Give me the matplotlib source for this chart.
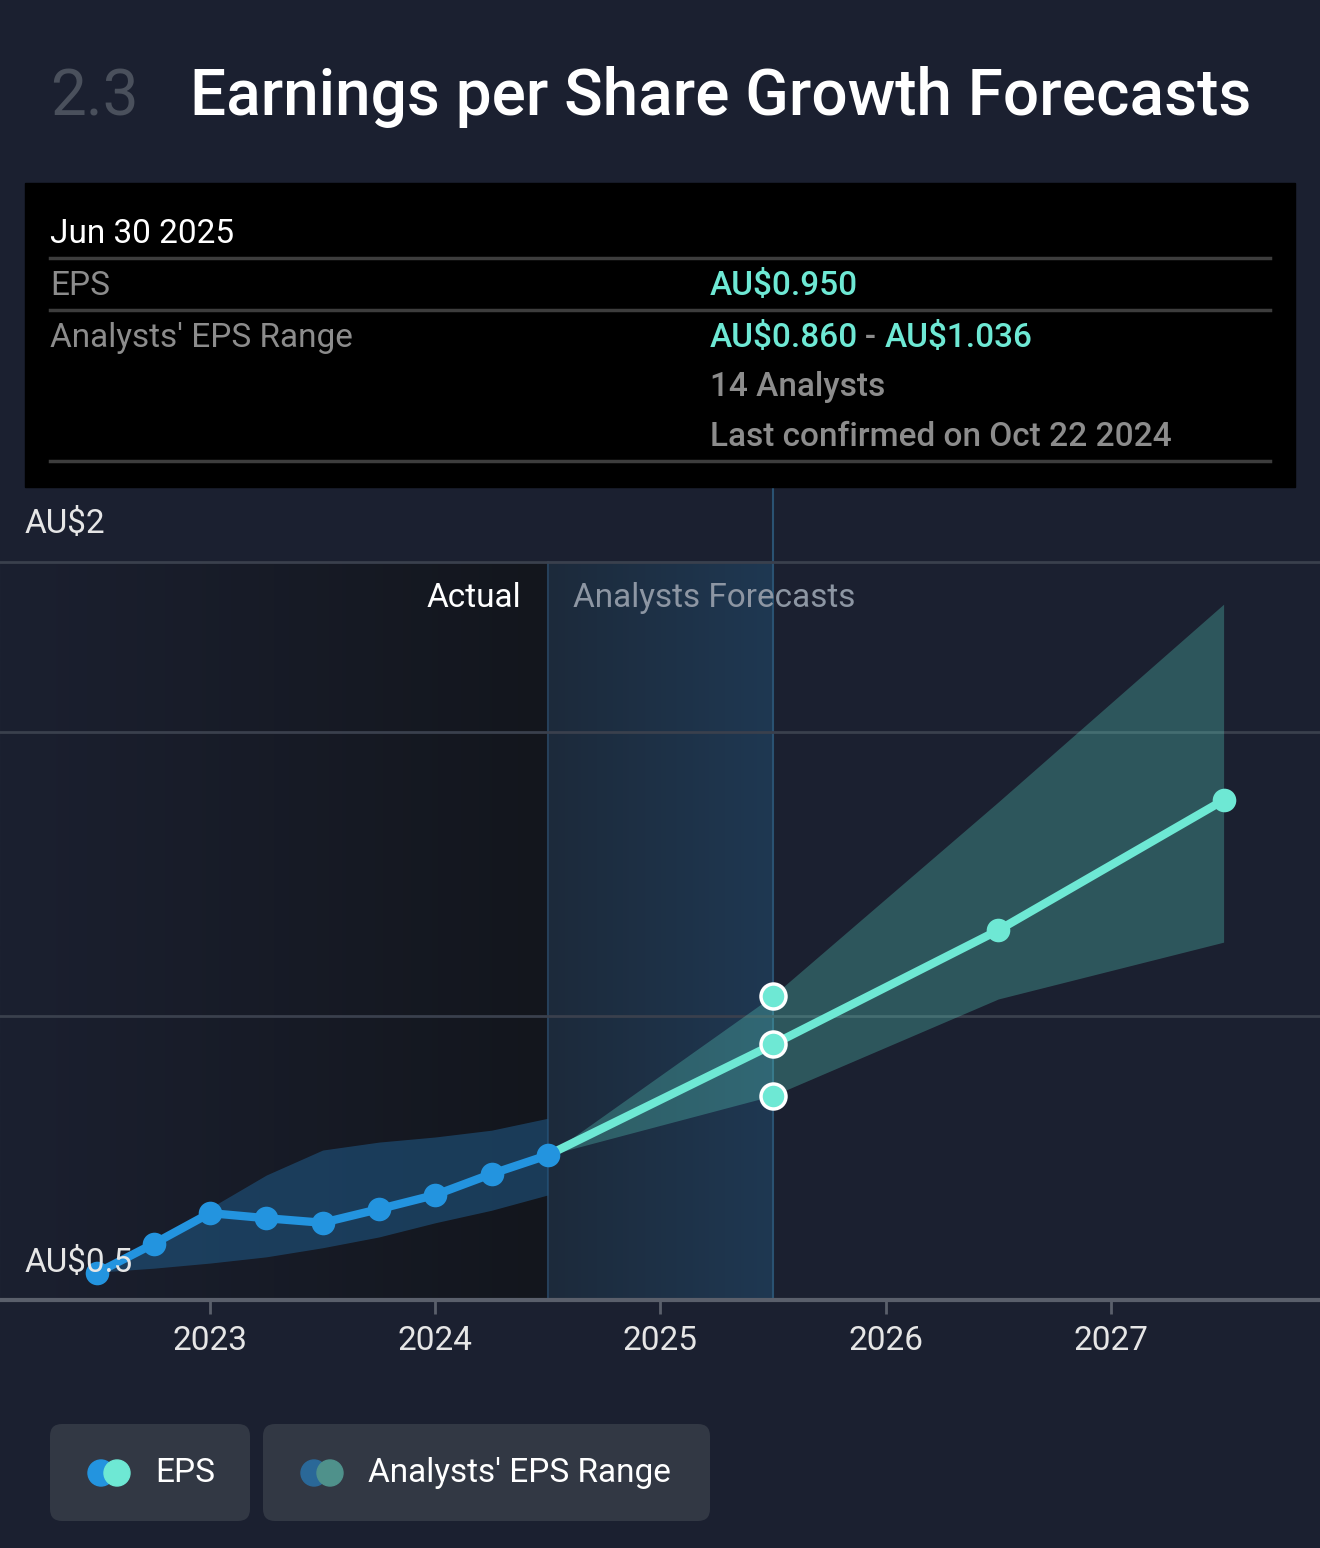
import numpy as np
import matplotlib.pyplot as plt
from matplotlib.patches import Rectangle, FancyBboxPatch, Circle
from matplotlib.colors import LinearSegmentedColormap

plt.rcParams['font.family'] = ['Roboto', 'DejaVu Sans']

# data
hist_x = [2022.5, 2022.75, 2023.0, 2023.25, 2023.5, 2023.75, 2024.0, 2024.25, 2024.5]
hist_eps = [0.548, 0.599, 0.653, 0.644, 0.636, 0.660, 0.685, 0.722, 0.755]
hist_hi = [0.549, 0.597, 0.662, 0.720, 0.764, 0.778, 0.787, 0.799, 0.820]
hist_lo = [0.549, 0.556, 0.565, 0.576, 0.592, 0.611, 0.636, 0.658, 0.685]

fc_x = [2024.5, 2025.5, 2026.5, 2027.5]
fc_eps = [0.755, 0.950, 1.151, 1.380]
fc_hi = [0.755, 1.036, 1.377, 1.725]
fc_lo = [0.755, 0.860, 1.030, 1.130]

years = [2023, 2024, 2025, 2026, 2027]
grid_vals = [1.0, 1.5, 1.8]

BG = '#1b2030'
BLUE = '#2394df'
TEAL = '#6ee8d4'
GREY = '#8c8c8c'
FS = 24

W, H = 1320, 1548
fig = plt.figure(figsize=(W / 100, H / 100), dpi=100, facecolor=BG)

# chart axes, pixel rows 487..1300
x0, x1 = 2022.0677, 2027.928
y0, y1 = 0.5, 0.5 + (1300 - 487) / 568
ax = fig.add_axes([0, (H - 1300) / H, 1, (1300 - 487) / H])
ax.set_facecolor('none')
ax.set_xlim(x0, x1)
ax.set_ylim(y0, y1)
for s in ax.spines.values():
    s.set_visible(False)

# actual region + highlighted year
grad = np.linspace(0, 1, 256).reshape(1, -1)
cm_act = LinearSegmentedColormap.from_list('act', [BG, '#13161d'])
ax.imshow(grad, cmap=cm_act, extent=[x0, 2024.5, 0.5, 1.8], aspect='auto', zorder=0)
cm_hl = LinearSegmentedColormap.from_list('hl', ['#1c2a3b', '#1f3852'])
ax.imshow(grad, cmap=cm_hl, extent=[2024.5, 2025.5, 0.5, 1.8], aspect='auto', zorder=0)
ax.axvline(2024.5, ymin=0, ymax=(1.8 - y0) / (y1 - y0), color='#26405a', lw=1.5, zorder=1)
ax.axvline(2025.5, color='#2a5272', lw=1.5, zorder=1)

for g in grid_vals:
    ax.axhline(g, color='#3a404d', lw=2, zorder=1)
ax.axhline(0.5, color='#5a5f6b', lw=3, zorder=1, clip_on=False)

# bands
ax.fill_between(hist_x, hist_lo, hist_hi, color='#1f5580', alpha=0.6, lw=0, zorder=2)
ax.fill_between(fc_x, fc_lo, fc_hi, color='#5fe3cf', alpha=0.28, lw=0, zorder=2)

# lines
ax.plot(fc_x, fc_eps, color=TEAL, lw=6, zorder=3, solid_capstyle='round')
ax.plot(fc_x[2:], fc_eps[2:], 'o', color=TEAL, ms=17, mec='none', zorder=4)
ax.plot(hist_x, hist_eps, color=BLUE, lw=6, zorder=4, solid_joinstyle='round')
ax.plot(hist_x, hist_eps, 'o', color=BLUE, ms=17, mec='none', zorder=5)
hl = [fc_lo[1], fc_eps[1], fc_hi[1]]
ax.plot([fc_x[1]] * 3, hl, 'o', color=TEAL, ms=18, mec='white', mew=2.5, zorder=6)

# ticks
ax.set_xticks(years)
ax.set_xticklabels([str(y) for y in years], color='#e6e6e6', fontsize=FS)
ax.tick_params(axis='x', length=10, width=2, color='#5a5f6b', pad=8)
ax.set_yticks([])

ax.text(2024.5 - 0.12, 1.736, 'Actual', color='white', fontsize=FS,
        ha='right', va='center', zorder=6)
ax.text(2024.5 + 0.11, 1.736, 'Analysts Forecasts', color='#8d96a3', fontsize=FS,
        ha='left', va='center', zorder=6)

# overlay in pixel coords
ov = fig.add_axes([0, 0, 1, 1], zorder=10)
ov.set_xlim(0, W)
ov.set_ylim(H, 0)
ov.axis('off')
ov.patch.set_alpha(0)

ov.text(50, 97, '2.3', color='#4a505c', fontsize=46, va='center', ha='left')
ov.text(190, 97, 'Earnings per Share Growth Forecasts', color='white', fontsize=46,
        fontweight='medium', va='center', ha='left')

ov.add_patch(Rectangle((25, 183), 1270, 304, color='black', zorder=1))
for yy in [258, 310, 461]:
    ov.plot([50, 1270], [yy, yy], color='#3d3d3d', lw=2.5, zorder=2)
ov.text(50, 234, 'Jun 30 2025', color='white', fontsize=FS, va='center', zorder=3)
ov.text(50, 286, 'EPS', color=GREY, fontsize=FS, va='center', zorder=3)
ov.text(50, 338, "Analysts' EPS Range", color=GREY, fontsize=FS, va='center', zorder=3)
ov.text(710, 286, 'AU$0.950', color=TEAL, fontsize=FS, fontweight='medium', va='center', zorder=3)
ov.text(710, 338, 'AU$0.860', color=TEAL, fontsize=FS, fontweight='medium', va='center', zorder=3)
ov.text(865, 338, '-', color=GREY, fontsize=FS, fontweight='medium', va='center', zorder=3)
ov.text(885, 338, 'AU$1.036', color=TEAL, fontsize=FS, fontweight='medium', va='center', zorder=3)
ov.text(710, 387, '14 Analysts', color=GREY, fontsize=FS, fontweight='medium', va='center', zorder=3)
ov.text(710, 437, 'Last confirmed on Oct 22 2024', color=GREY, fontsize=FS,
        fontweight='medium', va='center', zorder=3)

ov.text(25, 524, 'AU$2', color='#e6e6e6', fontsize=FS, va='center')
ov.text(25, 1263, 'AU$0.5', color='#e6e6e6', fontsize=FS, va='center', zorder=0)

# legend chips
ov.add_patch(FancyBboxPatch((50, 1424), 200, 97, boxstyle='round,pad=0,rounding_size=12',
                            fc='#323844', ec='none'))
ov.add_patch(FancyBboxPatch((263, 1424), 447, 97, boxstyle='round,pad=0,rounding_size=12',
                            fc='#323844', ec='none'))
ov.add_patch(Circle((101, 1473), 13, color=BLUE))
ov.add_patch(Circle((117, 1473), 13, color=TEAL))
ov.add_patch(Circle((314, 1473), 13, color='#2a6898'))
ov.add_patch(Circle((330, 1473), 13, color='#4f918b'))
ov.text(155, 1473, 'EPS', color='white', fontsize=FS, va='center')
ov.text(368, 1473, "Analysts' EPS Range", color='white', fontsize=FS, va='center')

fig.savefig('out.png', dpi=100, facecolor=BG)
